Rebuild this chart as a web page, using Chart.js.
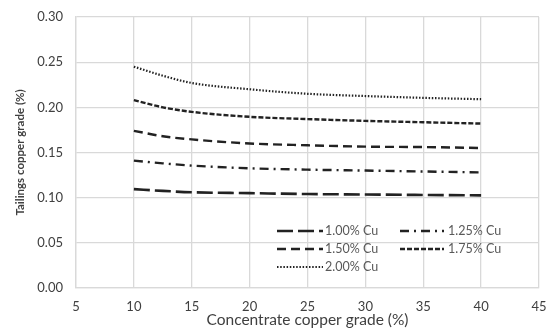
<!DOCTYPE html>
<html>
<head>
<meta charset="utf-8">
<script src="https://cdn.jsdelivr.net/npm/chart.js@4.4.1/dist/chart.umd.min.js"></script>
<style>
  html, body { margin: 0; padding: 0; background: #fff; }
  #wrap { width: 552px; height: 335px; }
</style>
</head>
<body>
<div id="wrap"><canvas id="c"></canvas></div>
<script>
// concentrate grade (%) on x, tailings grade (%) on y
const concGrade = [10, 12.5, 15, 20, 25, 30, 35, 40];
const seriesLabels = ['1.00% Cu', '1.25% Cu', '1.50% Cu', '1.75% Cu', '2.00% Cu'];
const cu100 = [0.1095, 0.1075, 0.106, 0.105, 0.104, 0.1035, 0.103, 0.1025];
const cu125 = [0.141, 0.138, 0.1355, 0.1325, 0.131, 0.130, 0.129, 0.128];
const cu150 = [0.174, 0.168, 0.1645, 0.160, 0.158, 0.1565, 0.156, 0.155];
const cu175 = [0.208, 0.200, 0.195, 0.1895, 0.187, 0.185, 0.1835, 0.182];
const cu200 = [0.245, 0.235, 0.227, 0.220, 0.215, 0.2125, 0.2105, 0.209];
const xTicks = [5, 10, 15, 20, 25, 30, 35, 40, 45];
const yTicks = [0, 0.05, 0.10, 0.15, 0.20, 0.25, 0.30];

const allSeries = [cu100, cu125, cu150, cu175, cu200];
const dashes = [[16, 5], [9, 5, 2, 5], [9, 5], [5, 2], [1.5, 1.7]];
const widths = [2.6, 2.4, 2.4, 2.4, 2.2];

const datasets = allSeries.map((vals, i) => ({
  label: seriesLabels[i],
  data: vals.map((v, j) => ({ x: concGrade[j], y: v })),
  borderColor: '#222',
  borderWidth: widths[i],
  borderDash: dashes[i],
  pointRadius: 0,
  tension: 0.4,
  cubicInterpolationMode: 'monotone',
  fill: false
}));

// legend drawn inside the plot, two columns like the original
const insideLegend = {
  id: 'insideLegend',
  afterDatasetsDraw(chart) {
    const ctx = chart.ctx;
    const spots = [
      [277, 323, 325, 231],
      [400, 444, 448, 231],
      [277, 323, 325, 249],
      [400, 444, 448, 249],
      [277, 323, 325, 267]
    ];
    ctx.save();
    chart.data.datasets.forEach((ds, i) => {
      const [x0, x1, tx, y] = spots[i];
      ctx.strokeStyle = ds.borderColor;
      ctx.lineWidth = ds.borderWidth;
      ctx.setLineDash(ds.borderDash);
      ctx.beginPath();
      ctx.moveTo(x0, y);
      ctx.lineTo(x1, y);
      ctx.stroke();
      ctx.setLineDash([]);
      ctx.fillStyle = '#595959';
      ctx.font = '12.5px Lato';
      ctx.textBaseline = 'middle';
      ctx.textAlign = 'left';
      ctx.fillText(ds.label, tx, y);
    });
    ctx.restore();
  }
};

new Chart(document.getElementById('c'), {
  type: 'line',
  data: { datasets },
  plugins: [insideLegend],
  options: {
    responsive: true,
    maintainAspectRatio: false,
    animation: false,
    layout: { padding: { top: 17, right: 13, left: 0, bottom: 0 } },
    plugins: { legend: { display: false }, tooltip: { enabled: false } },
    scales: {
      x: {
        type: 'linear',
        min: 5,
        max: 45,
        afterBuildTicks: s => { s.ticks = xTicks.map(v => ({ value: v })); },
        afterFit: s => { s.height = 47; s.paddingLeft = 0; s.paddingRight = 0; },
        grid: { color: '#d9d9d9', lineWidth: 1.3, drawTicks: false },
        border: { color: '#d9d9d9', width: 1.3 },
        ticks: { color: '#404040', font: { family: 'Lato', size: 13 }, padding: 11 },
        title: {
          display: true,
          text: 'Concentrate copper grade (%)',
          color: '#404040',
          font: { family: 'Lato', size: 15.5 },
          padding: { top: 0, bottom: 6 }
        }
      },
      y: {
        min: 0,
        max: 0.3,
        afterBuildTicks: s => { s.ticks = yTicks.map(v => ({ value: v })); },
        afterFit: s => { s.width = 76; s.paddingTop = 0; s.paddingBottom = 0; },
        grid: { color: '#d9d9d9', lineWidth: 1.3, drawTicks: false },
        border: { color: '#d9d9d9', width: 1.3 },
        ticks: {
          color: '#404040',
          font: { family: 'Lato', size: 13 },
          padding: 13,
          callback: v => v.toFixed(2)
        },
        title: {
          display: true,
          text: 'Tailings copper grade (%)',
          color: '#404040',
          font: { family: 'Lato', size: 11.5, weight: 'bold' },
          padding: { top: 13, bottom: 0 }
        }
      }
    }
  }
});
</script>
</body>
</html>
